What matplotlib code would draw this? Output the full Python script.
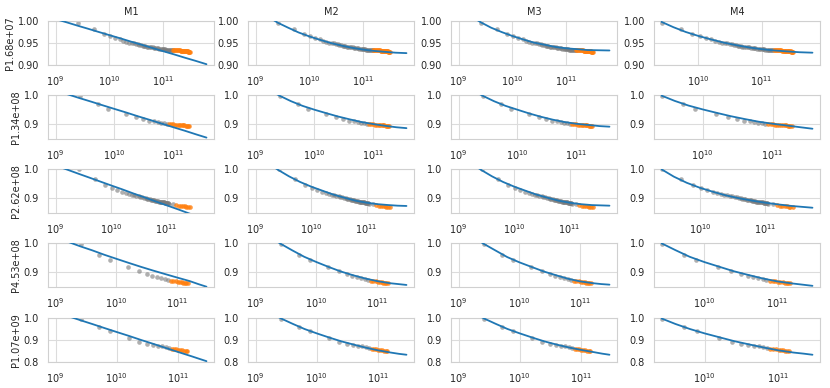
import matplotlib
matplotlib.use("Agg")
import matplotlib.pyplot as plt
import seaborn as sns

sns.set_style("whitegrid")
plt.rcParams['font.family'] = ['DejaVu Sans']

MODELS = ["M1", "M2", "M3", "M4"]
ROW_LABELS = ["P1.68e+07", "P1.34e+08", "P2.62e+08", "P4.53e+08", "P1.07e+09"]
YLIMS = [(0.9, 1.0), (0.85, 1.0), (0.85, 1.0), (0.85, 1.0), (0.8, 1.0)]
YTICKS = [[0.90, 0.95, 1.00], [0.9, 1.0], [0.9, 1.0], [0.9, 1.0], [0.8, 0.9, 1.0]]
YTICKLABELS = [["0.90", "0.95", "1.00"], ["0.9", "1.0"], ["0.9", "1.0"], ["0.9", "1.0"], ["0.8", "0.9", "1.0"]]

# ---- observed points (shared by all model columns) ----
FIT_PTS_X_R1 = [2.6e9, 5.2e9, 7.8e9, 1.04e10, 1.3e10, 1.56e10, 1.82e10, 2.08e10, 2.34e10, 2.6e10,
                2.86e10, 3.12e10, 3.38e10, 3.64e10, 3.9e10, 4.16e10, 4.42e10, 4.68e10, 4.94e10, 5.2e10,
                5.6e10, 6.0e10, 6.4e10, 6.8e10, 7.2e10, 7.6e10, 8.0e10, 8.5e10, 9.0e10, 9.5e10,
                1.0e11, 1.05e11, 1.1e11, 1.15e11, 1.2e11, 1.25e11, 1.3e11, 1.35e11, 1.4e11, 1.45e11, 1.5e11]
FIT_PTS_Y_R1 = [0.996, 0.982, 0.971, 0.966, 0.961, 0.958, 0.955, 0.953, 0.951, 0.950,
                0.949, 0.948, 0.947, 0.946, 0.945, 0.944, 0.944, 0.943, 0.942, 0.942,
                0.941, 0.940, 0.940, 0.939, 0.939, 0.938, 0.938, 0.937, 0.937, 0.937,
                0.936, 0.936, 0.936, 0.935, 0.935, 0.935, 0.935, 0.934, 0.934, 0.934, 0.934]
HELD_X_R1 = [1.55e11, 1.62e11, 1.69e11, 1.76e11, 1.83e11, 1.9e11, 1.97e11, 2.04e11, 2.11e11, 2.18e11,
             2.25e11, 2.32e11, 2.39e11, 2.46e11, 2.53e11, 2.6e11, 2.67e11, 2.74e11, 2.81e11, 2.88e11,
             2.95e11, 3.02e11, 3.09e11, 3.16e11]
HELD_Y_R1 = [0.934, 0.934, 0.934, 0.933, 0.933, 0.933, 0.933, 0.933, 0.932, 0.932,
             0.932, 0.932, 0.932, 0.932, 0.931, 0.931, 0.931, 0.931, 0.931, 0.931,
             0.930, 0.930, 0.930, 0.930]

FIT_PTS_X_R2 = [2.6e9, 5.2e9, 7.8e9, 1.56e10, 2.34e10, 3.12e10, 3.9e10, 4.68e10, 5.46e10, 6.24e10, 7.02e10, 7.8e10]
FIT_PTS_Y_R2 = [0.997, 0.968, 0.953, 0.934, 0.924, 0.918, 0.913, 0.910, 0.907, 0.905, 0.904, 0.902]
HELD_X_R2 = [8.58e10, 9.36e10, 1.014e11, 1.092e11, 1.17e11, 1.248e11, 1.326e11, 1.404e11, 1.482e11,
             1.56e11, 1.638e11, 1.716e11, 1.794e11, 1.872e11]
HELD_Y_R2 = [0.901, 0.900, 0.900, 0.899, 0.899, 0.898, 0.898, 0.897, 0.897,
             0.897, 0.896, 0.896, 0.896, 0.895]

FIT_PTS_X_R3 = [2.6e9, 5.2e9, 7.8e9, 1.04e10, 1.3e10, 1.56e10, 1.82e10, 2.08e10, 2.34e10, 2.6e10,
                2.86e10, 3.12e10, 3.38e10, 3.64e10, 3.9e10, 4.16e10, 4.42e10, 4.68e10, 4.94e10, 5.2e10,
                5.46e10, 5.72e10, 5.98e10, 6.24e10, 6.5e10, 6.76e10, 7.02e10, 7.28e10, 7.54e10, 7.8e10,
                8.06e10, 8.32e10, 8.58e10, 8.84e10, 9.1e10, 9.36e10, 9.62e10, 9.88e10, 1.014e11, 1.04e11,
                1.066e11, 1.092e11, 1.3e11]
FIT_PTS_Y_R3 = [0.999, 0.965, 0.947, 0.935, 0.928, 0.923, 0.919, 0.916, 0.913, 0.911,
                0.909, 0.907, 0.905, 0.904, 0.902, 0.901, 0.899, 0.898, 0.897, 0.896,
                0.895, 0.894, 0.893, 0.892, 0.892, 0.891, 0.890, 0.889, 0.889, 0.888,
                0.888, 0.887, 0.887, 0.886, 0.886, 0.885, 0.885, 0.884, 0.884, 0.883,
                0.883, 0.882, 0.880]
HELD_X_R3 = [1.5e11, 1.65e11, 1.8e11, 1.95e11, 2.1e11, 2.25e11, 2.4e11, 2.6e11]
HELD_Y_R3 = [0.876, 0.875, 0.874, 0.873, 0.873, 0.872, 0.872, 0.871]

FIT_PTS_X_R4 = [2.6e9, 5.2e9, 7.8e9, 1.56e10, 2.34e10, 3.12e10, 3.9e10, 4.68e10, 5.46e10, 6.24e10, 7.02e10]
FIT_PTS_Y_R4 = [0.998, 0.960, 0.943, 0.917, 0.903, 0.894, 0.887, 0.883, 0.879, 0.876, 0.873]
HELD_X_R4 = [7.8e10, 8.58e10, 9.36e10, 1.014e11, 1.092e11, 1.17e11, 1.248e11, 1.326e11, 1.404e11, 1.482e11]
HELD_Y_R4 = [0.871, 0.870, 0.869, 0.868, 0.867, 0.866, 0.865, 0.865, 0.864, 0.863]

FIT_PTS_X_R5 = [2.6e9, 5.2e9, 7.8e9, 1.56e10, 2.34e10, 3.12e10, 3.9e10, 4.68e10, 5.46e10, 6.24e10, 7.02e10]
FIT_PTS_Y_R5 = [0.997, 0.960, 0.939, 0.907, 0.893, 0.884, 0.879, 0.875, 0.871, 0.867, 0.864]
HELD_X_R5 = [7.8e10, 8.58e10, 9.36e10, 1.014e11, 1.092e11, 1.17e11, 1.248e11, 1.326e11, 1.404e11]
HELD_Y_R5 = [0.861, 0.859, 0.857, 0.856, 0.854, 0.853, 0.852, 0.851, 0.850]

# ---- fitted curves ----
CURVE_X_R1 = [1.0e9, 1.6e9, 2.6e9, 4.0e9, 6.3e9, 1.0e10, 1.6e10, 2.5e10, 4.0e10, 6.3e10, 1.0e11, 1.6e11, 2.5e11, 4.0e11, 6.4e11]
CURVE_X_R2 = [1.0e9, 1.6e9, 2.6e9, 4.0e9, 6.3e9, 1.0e10, 1.6e10, 2.5e10, 4.0e10, 6.3e10, 1.0e11, 1.6e11, 2.5e11, 3.7e11]
CURVE_X_R3 = [1.0e9, 1.6e9, 2.6e9, 4.0e9, 6.3e9, 1.0e10, 1.6e10, 2.5e10, 4.0e10, 6.3e10, 1.0e11, 1.6e11, 2.5e11, 3.6e11, 5.2e11]
CURVE_X_R4 = [1.0e9, 1.6e9, 2.6e9, 4.0e9, 6.3e9, 1.0e10, 1.6e10, 2.5e10, 4.0e10, 6.3e10, 1.0e11, 1.6e11, 2.2e11, 3.0e11]
CURVE_X_R5 = [1.0e9, 1.6e9, 2.6e9, 4.0e9, 6.3e9, 1.0e10, 1.6e10, 2.5e10, 4.0e10, 6.3e10, 1.0e11, 1.6e11, 2.2e11, 2.9e11]

CURVE_M4_X_R1 = [2.6e9, 4.0e9, 6.3e9, 1.0e10, 1.6e10, 2.5e10, 4.0e10, 6.3e10, 1.0e11, 1.6e11, 2.5e11, 4.0e11, 6.4e11]
CURVE_M4_X_R2 = [2.6e9, 4.0e9, 6.3e9, 1.0e10, 1.6e10, 2.5e10, 4.0e10, 6.3e10, 1.0e11, 1.6e11, 2.5e11, 3.7e11]
CURVE_M4_X_R3 = [2.6e9, 4.0e9, 6.3e9, 1.0e10, 1.6e10, 2.5e10, 4.0e10, 6.3e10, 1.0e11, 1.6e11, 2.5e11, 3.6e11, 5.2e11]
CURVE_M4_X_R4 = [2.6e9, 4.0e9, 6.3e9, 1.0e10, 1.6e10, 2.5e10, 4.0e10, 6.3e10, 1.0e11, 1.6e11, 2.2e11, 3.0e11]
CURVE_M4_X_R5 = [2.6e9, 4.0e9, 6.3e9, 1.0e10, 1.6e10, 2.5e10, 4.0e10, 6.3e10, 1.0e11, 1.6e11, 2.2e11, 2.9e11]

M1_Y_R1 = [1.0044, 0.9971, 0.9892, 0.9825, 0.9752, 0.9679, 0.9606, 0.9533, 0.9460, 0.9387, 0.9314, 0.9241, 0.9168, 0.9095, 0.9018]
M1_Y_R2 = [1.015, 1.0025, 0.989, 0.9776, 0.9651, 0.9527, 0.9402, 0.9277, 0.9153, 0.9028, 0.8904, 0.8779, 0.8654, 0.8548]
M1_Y_R3 = [1.0119, 0.9983, 0.9837, 0.9711, 0.9576, 0.9440, 0.9304, 0.9168, 0.9032, 0.8897, 0.8761, 0.8625, 0.8489, 0.8383, 0.8272]
M1_Y_R4 = [1.020, 1.004, 0.988, 0.975, 0.960, 0.946, 0.932, 0.919, 0.906, 0.894, 0.882, 0.870, 0.860, 0.851]
M1_Y_R5 = [1.0267, 1.0086, 0.9891, 0.9724, 0.9542, 0.9361, 0.9180, 0.8999, 0.8818, 0.8636, 0.8455, 0.8274, 0.8147, 0.8038]

M2_Y_R1 = [1.030, 1.012, 0.996, 0.985, 0.974, 0.965, 0.957, 0.950, 0.944, 0.939, 0.935, 0.932, 0.930, 0.928, 0.927]
M2_Y_R2 = [1.045, 1.020, 0.997, 0.979, 0.963, 0.950, 0.938, 0.927, 0.917, 0.908, 0.901, 0.895, 0.890, 0.887]
M2_Y_R3 = [1.050, 1.022, 0.996, 0.975, 0.956, 0.940, 0.926, 0.913, 0.902, 0.892, 0.885, 0.880, 0.877, 0.875, 0.874]
M2_Y_R4 = [1.050, 1.025, 0.997, 0.975, 0.953, 0.935, 0.918, 0.903, 0.890, 0.879, 0.870, 0.863, 0.860, 0.857]
M2_Y_R5 = [1.060, 1.030, 0.998, 0.974, 0.950, 0.930, 0.911, 0.894, 0.879, 0.865, 0.853, 0.843, 0.837, 0.833]

M3_Y_R1 = [1.030, 1.013, 0.997, 0.985, 0.975, 0.966, 0.958, 0.951, 0.946, 0.941, 0.938, 0.936, 0.934, 0.9335, 0.933]
M3_Y_R2 = [1.045, 1.020, 0.997, 0.979, 0.963, 0.950, 0.937, 0.926, 0.916, 0.908, 0.902, 0.898, 0.894, 0.892]
M3_Y_R3 = [1.050, 1.022, 0.996, 0.975, 0.956, 0.940, 0.926, 0.913, 0.902, 0.892, 0.885, 0.880, 0.877, 0.876, 0.875]
M3_Y_R4 = [1.050, 1.025, 0.997, 0.975, 0.952, 0.934, 0.918, 0.903, 0.890, 0.878, 0.869, 0.863, 0.860, 0.858]
M3_Y_R5 = [1.060, 1.030, 0.998, 0.974, 0.950, 0.930, 0.911, 0.894, 0.879, 0.866, 0.855, 0.845, 0.838, 0.833]

M4_Y_R1 = [0.998, 0.986, 0.975, 0.966, 0.958, 0.951, 0.945, 0.940, 0.936, 0.933, 0.931, 0.929, 0.928]
M4_Y_R2 = [0.998, 0.980, 0.964, 0.951, 0.939, 0.928, 0.918, 0.909, 0.902, 0.896, 0.890, 0.885]
M4_Y_R3 = [0.999, 0.974, 0.953, 0.936, 0.922, 0.910, 0.900, 0.892, 0.885, 0.879, 0.874, 0.871, 0.868]
M4_Y_R4 = [0.999, 0.976, 0.953, 0.935, 0.919, 0.904, 0.891, 0.879, 0.869, 0.862, 0.858, 0.854]
M4_Y_R5 = [0.998, 0.973, 0.950, 0.930, 0.912, 0.895, 0.880, 0.866, 0.853, 0.843, 0.838, 0.833]

FIT_PTS = [(FIT_PTS_X_R1, FIT_PTS_Y_R1), (FIT_PTS_X_R2, FIT_PTS_Y_R2), (FIT_PTS_X_R3, FIT_PTS_Y_R3),
           (FIT_PTS_X_R4, FIT_PTS_Y_R4), (FIT_PTS_X_R5, FIT_PTS_Y_R5)]
HELD = [(HELD_X_R1, HELD_Y_R1), (HELD_X_R2, HELD_Y_R2), (HELD_X_R3, HELD_Y_R3),
        (HELD_X_R4, HELD_Y_R4), (HELD_X_R5, HELD_Y_R5)]
CURVE_X = [CURVE_X_R1, CURVE_X_R2, CURVE_X_R3, CURVE_X_R4, CURVE_X_R5]
CURVE_M4_X = [CURVE_M4_X_R1, CURVE_M4_X_R2, CURVE_M4_X_R3, CURVE_M4_X_R4, CURVE_M4_X_R5]
CURVES = {
    "M1": [M1_Y_R1, M1_Y_R2, M1_Y_R3, M1_Y_R4, M1_Y_R5],
    "M2": [M2_Y_R1, M2_Y_R2, M2_Y_R3, M2_Y_R4, M2_Y_R5],
    "M3": [M3_Y_R1, M3_Y_R2, M3_Y_R3, M3_Y_R4, M3_Y_R5],
    "M4": [M4_Y_R1, M4_Y_R2, M4_Y_R3, M4_Y_R4, M4_Y_R5],
}

W, H = 830, 388
fig = plt.figure(figsize=(W / 100, H / 100), dpi=100)
col_left = [48, 248, 451, 654]
ax_w = 166
row_top = [21, 95, 169, 243, 318]
ax_h = 44

FS = 7
for r in range(5):
    for c, m in enumerate(MODELS):
        ax = fig.add_axes([col_left[c] / W, (H - row_top[r] - ax_h) / H, ax_w / W, ax_h / H])
        ax.set_xscale("log")
        gx, gy = FIT_PTS[r]
        hx, hy = HELD[r]
        ax.scatter(gx, gy, s=11, color="#7a7a7a", alpha=0.6, linewidths=0, zorder=2)
        ax.scatter(hx, hy, s=11, color="#ff7f0e", alpha=0.8, linewidths=0, zorder=2)
        lx = CURVE_M4_X[r] if m == "M4" else CURVE_X[r]
        ax.plot(lx, CURVES[m][r], color="#1f77b4", lw=1.3, zorder=3)
        ax.set_ylim(*YLIMS[r])
        ax.set_yticks(YTICKS[r])
        ax.set_yticklabels(YTICKLABELS[r])
        ax.minorticks_off()
        ax.tick_params(labelsize=FS, colors="#262626", pad=3)
        ax.grid(True, which="major", color="#dcdcdc", lw=0.8)
        for s in ax.spines.values():
            s.set_color("#d0d0d0")
            s.set_linewidth(0.8)
        if r == 0:
            ax.set_title(m, fontsize=FS, color="#262626", pad=4)
        if c == 0:
            ax.set_ylabel(ROW_LABELS[r], fontsize=FS, color="#262626", labelpad=2)

fig.savefig("out.png", dpi=100)
